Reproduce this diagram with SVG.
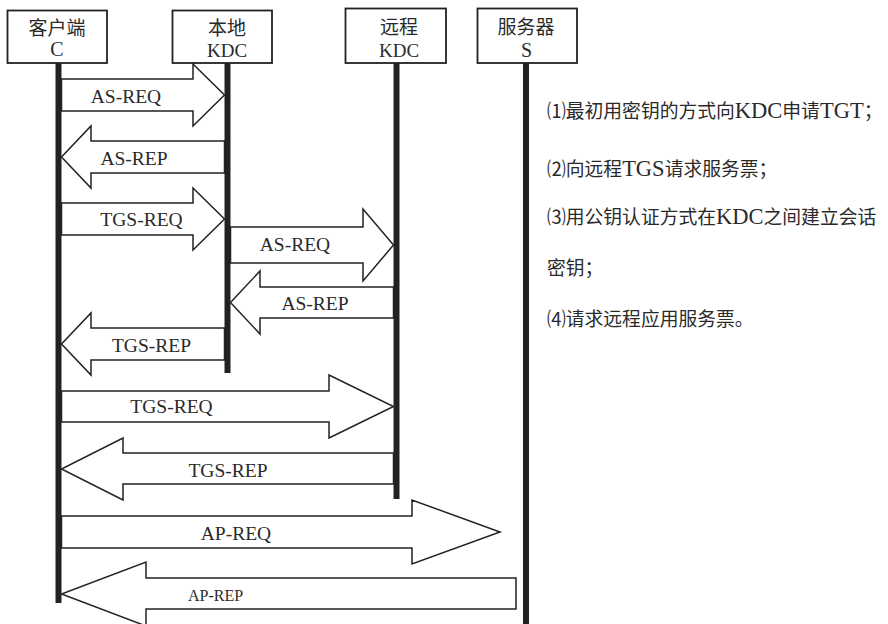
<svg xmlns="http://www.w3.org/2000/svg" width="888" height="624" viewBox="0 0 888 624">
<style>
.box{fill:#fff;stroke:#222;stroke-width:1.8}
.life{stroke:#222;stroke-width:6;fill:none}
.arr{fill:#fff;stroke:#222;stroke-width:1.5;stroke-linejoin:miter}
.lbl{font-family:'Liberation Serif',serif;font-weight:400;font-size:19.5px;fill:#2a2a2a;text-anchor:middle}
.cjk{font-family:'Noto Sans CJK SC',sans-serif;font-weight:400;font-size:19px;fill:#2a2a2a;text-anchor:middle}
.note{font-family:'Noto Sans CJK SC',sans-serif;font-weight:400;font-size:18.8px;fill:#2a2a2a}
.lat{font-family:'Liberation Serif',serif;font-size:22.5px}
</style>
<rect width="888" height="624" fill="#fff"/>
<g id="lifelines">
<line class="life" x1="58.5" y1="63" x2="58.5" y2="603"/>
<line class="life" x1="227.5" y1="63" x2="227.5" y2="373"/>
<line class="life" x1="396.5" y1="63" x2="396.5" y2="499"/>
<line class="life" x1="526" y1="63" x2="526" y2="624"/>
</g>
<g id="node-client">
<rect class="box" x="7.5" y="10.5" width="99.5" height="52.5"/>
<text class="cjk" x="57" y="35">客户端</text>
<text class="lbl" x="57" y="56" style="font-size:20px">C</text>
</g>
<g id="node-localkdc">
<rect class="box" x="172.5" y="10.5" width="99.5" height="52.5"/>
<text class="cjk" x="227" y="35">本地</text>
<text class="lbl" x="227" y="57" style="font-size:19px">KDC</text>
</g>
<g id="node-remotekdc">
<rect class="box" x="345.5" y="8.5" width="100.5" height="54.5"/>
<text class="cjk" x="399" y="34">远程</text>
<text class="lbl" x="399" y="57" style="font-size:19px">KDC</text>
</g>
<g id="node-server">
<rect class="box" x="477.5" y="8.5" width="99.5" height="54.5"/>
<text class="cjk" x="526" y="34">服务器</text>
<text class="lbl" x="526.5" y="57" style="font-size:20px">S</text>
</g>
<g id="connectors">
<polygon class="arr" points="61.5,79 193,79 193,64 224.5,95 193,126 193,111 61.5,111"/>
<polygon class="arr" points="224.5,141 91,141 91,126 61.5,157 91,188 91,173 224.5,173"/>
<polygon class="arr" points="61.5,203 193,203 193,188 224.5,219 193,250 193,235 61.5,235"/>
<polygon class="arr" points="230.5,227 363,227 363,209 393.5,245 363,281 363,263 230.5,263"/>
<polygon class="arr" points="393.5,287 260,287 260,271 230.5,302.5 260,334 260,318 393.5,318"/>
<polygon class="arr" points="224.5,328 91,328 91,313 61.5,344 91,375 91,360 224.5,360"/>
<polygon class="arr" points="61.5,391 329,391 329,375 393.5,406.5 329,438 329,422 61.5,422"/>
<polygon class="arr" points="393.5,453 123,453 123,438 61.5,469 123,500 123,484 393.5,484"/>
<polygon class="arr" points="61.5,516 412,516 412,500 500,532 412,564 412,548 61.5,548"/>
<polygon class="arr" points="516,578 146,578 146,562 61.5,594 146,626 146,609 516,609 516,578"/>
<text class="lbl" x="126" y="103">AS-REQ</text>
<text class="lbl" x="134" y="165">AS-REP</text>
<text class="lbl" x="141.5" y="226">TGS-REQ</text>
<text class="lbl" x="295" y="251">AS-REQ</text>
<text class="lbl" x="315" y="310">AS-REP</text>
<text class="lbl" x="151.5" y="352">TGS-REP</text>
<text class="lbl" x="171.5" y="413">TGS-REQ</text>
<text class="lbl" x="228" y="477">TGS-REP</text>
<text class="lbl" x="236" y="540">AP-REQ</text>
<text class="lbl" x="215.5" y="601" style="font-size:16px">AP-REP</text>
</g>
<g id="notes">
<text class="note" x="547" y="118">⑴最初用密钥的方式向<tspan class="lat">KDC</tspan>申请<tspan class="lat">TGT</tspan>；</text>
<text class="note" x="547" y="176">⑵向远程<tspan class="lat">TGS</tspan>请求服务票；</text>
<text class="note" x="547" y="224">⑶用公钥认证方式在<tspan class="lat">KDC</tspan>之间建立会话</text>
<text class="note" x="547" y="275">密钥；</text>
<text class="note" x="547" y="326">⑷请求远程应用服务票。</text>
</g>
</svg>
